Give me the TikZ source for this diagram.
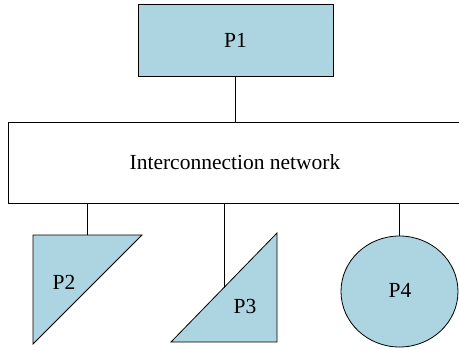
\documentclass[tikz,border=0pt]{standalone}
\usepackage{fontspec}
\setmainfont{Liberation Serif}
\definecolor{pfill}{HTML}{ADD4E1}
\begin{document}
\begin{tikzpicture}[x=1pt,y=-1pt,
  lbl/.style={font=\fontsize{21.5}{26}\selectfont, inner sep=0pt},
  shp/.style={draw=black, line width=0.8pt, fill=pfill},
  conn/.style={draw=black, line width=0.8pt}]
\useasboundingbox (0,0) rectangle (459,349);
% P1
\node[shp, rectangle, minimum width=195pt, minimum height=72pt, inner sep=0pt, anchor=center,
      font=\fontsize{21.5}{26}\selectfont] (p1) at (235.5,40) {P1};
% network
\node[draw=black, line width=0.8pt, fill=white, minimum width=454pt, minimum height=81pt, inner sep=0pt,
      font=\fontsize{21.5}{26}\selectfont] (net) at (235,162.5) {Interconnection network};
\draw[conn] (p1.south) -- (p1.south |- net.north);
% P2 triangle
\coordinate (p2a) at (33,235);
\coordinate (p2b) at (142,235);
\coordinate (p2c) at (33,344);
\coordinate (p2top) at (87,235);
\draw[shp, line join=miter] (p2a) -- (p2b) -- (p2c) -- cycle;
\node[lbl] (p2) at (64,282) {P2};
\draw[conn] (p2top |- net.south) -- (p2top);
% P3 triangle
\coordinate (p3a) at (171,342);
\coordinate (p3b) at (277,233);
\coordinate (p3c) at (277,342);
\coordinate (p3hit) at (224.5,287.5);
\draw[shp, line join=miter] (p3a) -- (p3b) -- (p3c) -- cycle;
\node[lbl] (p3) at (245,306) {P3};
\draw[conn] (p3hit |- net.south) -- (p3hit);
% P4 ellipse
\draw[shp] (399.5,291.5) ellipse [x radius=58.5, y radius=55.5];
\coordinate (p4top) at (399.5,236);
\node[lbl] (p4) at (400,290) {P4};
\draw[conn] (p4top |- net.south) -- (p4top);
\end{tikzpicture}
\end{document}
